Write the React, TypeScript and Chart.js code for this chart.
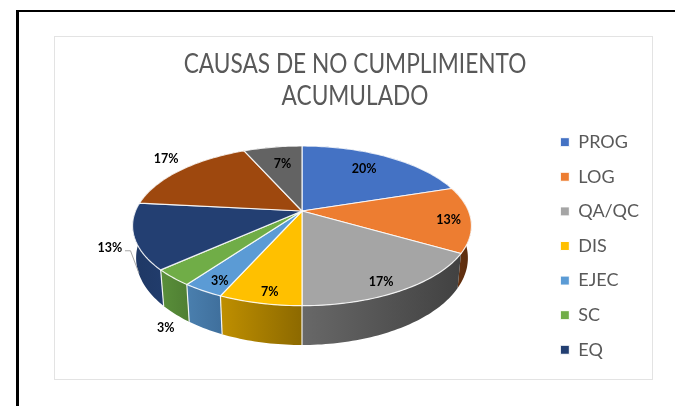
import React, { useEffect, useRef } from "react";
import { Chart, registerables } from "chart.js";

Chart.register(...registerables);

const categories = ["PROG", "LOG", "QA/QC", "DIS", "EJEC", "SC", "EQ", "", ""];
const counts = [6, 4, 5, 2, 1, 1, 4, 5, 2];
const topColors = ["#4472C4", "#ED7D31", "#A5A5A5", "#FFC000", "#5B9BD5", "#70AD47", "#233F72", "#9E480E", "#636363"];
const sideLeft = ["#2f528f", "#6b3410", "#686868", "#bf8f00", "#4a7fae", "#5a8f3a", "#1f3864", "#7a370b", "#4a4a4a"];
const sideRight = ["#2f528f", "#5a2c0e", "#414141", "#8c6900", "#3f6f9c", "#4f7f33", "#213c6c", "#7a370b", "#4a4a4a"];
const titleLines = ["CAUSAS DE NO CUMPLIMIENTO", "ACUMULADO"];

// Perspective projection of the pie's disc
const X0 = 302, Y0 = 211, PERSP = 0.186;
const TOP = { c: 166.5, b: 77.1, y: Y0 };
const BASE = { c: 163, b: 84, y: 241.8 };

const project = (t: number, r: number, plane: { c: number; b: number; y: number }) => {
  const u = r * Math.sin(t);
  const v = -r * Math.cos(t);
  const w = 1 - PERSP * v;
  return { x: X0 + (plane.c * u) / w, y: plane.y + (plane.b * v) / w };
};

const arcPoints = (t1: number, t2: number, plane: { c: number; b: number; y: number }) => {
  const n = Math.max(2, Math.ceil((t2 - t1) / 0.02));
  const pts = [];
  for (let i = 0; i <= n; i++) pts.push(project(t1 + ((t2 - t1) * i) / n, 1, plane));
  return pts;
};

// Label placement: radial fraction of the pie, then a small pixel nudge
const labelRadius = [0.74, 0.87, 0.87, 0.88, 0.87, 1, 1, 1, 0.72];
const labelNudge: [number, number][] = [[-3, 0], [0, 2], [-5, 3], [4, 2], [2, 2], [-7, 50.5], [-24, 11.5], [-14.5, -11], [2.5, 0.5]];

const TITLE_CX = 355, TITLE_SQUEEZE = 0.872;

const pie3d = {
  id: "pie3d",
  afterLayout(chart: any) {
    // The reference title uses a narrower face than any installed font
    const block = chart.titleBlock;
    if (block.__squeezed) return;
    block.__squeezed = true;
    const draw = block.draw.bind(block);
    block.draw = (...args: any[]) => {
      const { ctx } = chart;
      ctx.save();
      ctx.translate(TITLE_CX, 0);
      ctx.scale(TITLE_SQUEEZE, 1);
      ctx.translate(-TITLE_CX, 0);
      draw(...args);
      ctx.restore();
    };
  },
  beforeDraw(chart: any) {
    const { ctx } = chart;
    ctx.save();
    ctx.fillStyle = "#fff";
    ctx.fillRect(0, 0, chart.width, chart.height);
    ctx.strokeStyle = "#e3e3e3";
    ctx.lineWidth = 1;
    ctx.strokeRect(54.5, 36.5, 598, 343);
    ctx.fillStyle = "#000";
    ctx.fillRect(16, 10, 659, 2);
    ctx.fillRect(16, 10, 3, 396);
    ctx.restore();
  },
  beforeDatasetDraw(chart: any) {
    const { ctx } = chart;
    const arcs = chart.getDatasetMeta(0).data;
    const total = counts.reduce((a, b) => a + b, 0);
    const ang = arcs.map((a: any) => [a.startAngle + Math.PI / 2, a.endAngle + Math.PI / 2]);
    ctx.save();
    // side walls
    ang.forEach(([t1, t2]: number[], i: number) => {
      const top = arcPoints(t1, t2, TOP);
      const base = arcPoints(t1, t2, BASE);
      const xs = top.concat(base).map((p) => p.x);
      const g = ctx.createLinearGradient(Math.min(...xs), 0, Math.max(...xs), 0);
      g.addColorStop(0, sideLeft[i]);
      g.addColorStop(1, sideRight[i]);
      ctx.beginPath();
      top.forEach((p, k) => (k ? ctx.lineTo(p.x, p.y) : ctx.moveTo(p.x, p.y)));
      base.reverse().forEach((p) => ctx.lineTo(p.x, p.y));
      ctx.closePath();
      ctx.fillStyle = g;
      ctx.fill();
    });
    // vertical seams on the front of the wall
    ctx.strokeStyle = "rgba(255,255,255,0.9)";
    ctx.lineWidth = 1.2;
    ang.forEach(([t1]: number[]) => {
      if (-Math.cos(t1) <= 0.6) return;
      const a = project(t1, 1, TOP);
      const b = project(t1, 1, BASE);
      ctx.beginPath();
      ctx.moveTo(a.x, a.y);
      ctx.lineTo(b.x, b.y);
      ctx.stroke();
    });
    // top faces
    ang.forEach(([t1, t2]: number[], i: number) => {
      const top = arcPoints(t1, t2, TOP);
      ctx.beginPath();
      ctx.moveTo(X0, Y0);
      top.forEach((p) => ctx.lineTo(p.x, p.y));
      ctx.closePath();
      ctx.fillStyle = topColors[i];
      ctx.fill();
      ctx.strokeStyle = "rgba(255,255,255,0.85)";
      ctx.lineWidth = 1.2;
      ctx.lineJoin = "round";
      ctx.stroke();
    });
    // leader line of the EQ label
    const rim = project((ang[6][0] + ang[6][1]) / 2, 1, TOP);
    ctx.strokeStyle = "#a6a6a6";
    ctx.lineWidth = 1;
    ctx.beginPath();
    ctx.moveTo(rim.x - 9, rim.y + 14.5);
    ctx.lineTo(rim.x - 3.5, rim.y + 14.5);
    ctx.lineTo(rim.x + 5, rim.y + 37);
    ctx.stroke();
    // value labels
    ctx.fillStyle = "#000";
    ctx.font = "bold 12.5px Lato";
    ctx.textAlign = "center";
    ctx.textBaseline = "middle";
    ang.forEach(([t1, t2]: number[], i: number) => {
      const text = Math.round((counts[i] / total) * 100) + "%";
      const q = project((t1 + t2) / 2, labelRadius[i], TOP);
      ctx.fillText(text, q.x + labelNudge[i][0], q.y + labelNudge[i][1]);
    });
    ctx.restore();
    return false;
  },
};

export default function App() {
  const ref = useRef<HTMLCanvasElement>(null);
  useEffect(() => {
    const chart = new Chart(ref.current!, {
      type: "pie",
      data: {
        labels: categories,
        datasets: [{ data: counts, backgroundColor: topColors, borderColor: "#fff", borderWidth: 1 }],
      },
      options: {
        animation: false,
        responsive: false,
        layout: { padding: { left: 61, right: 26, top: 49, bottom: 27 } },
        plugins: {
          tooltip: { enabled: false },
          title: {
            display: true,
            text: titleLines,
            color: "#595959",
            font: { family: "Lato", size: 26, weight: "normal", lineHeight: 1.23 },
            padding: { top: 0, bottom: 0 },
          },
          legend: {
            position: "right",
            fullSize: false,
            labels: {
              boxWidth: 9,
              boxHeight: 9,
              padding: 16.6,
              color: "#595959",
              font: { family: "Lato", size: 18 },
              filter: (item: any) => item.text !== "",
            },
          },
        },
      },
      plugins: [pie3d],
    } as any);
    return () => chart.destroy();
  }, []);
  return <canvas ref={ref} width={675} height={406} style={{ position: "fixed", left: 0, top: 0, display: "block" }} />;
}
